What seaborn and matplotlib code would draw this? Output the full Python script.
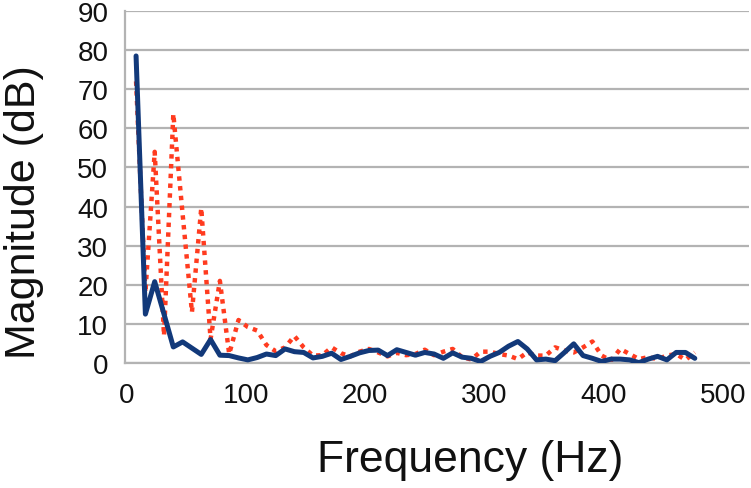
import matplotlib
matplotlib.use("Agg")
import matplotlib.pyplot as plt
import seaborn as sns
import pandas as pd

freq_hz = [7.81, 15.63, 23.44, 31.25, 39.06, 46.88, 54.69, 62.5, 70.31, 78.13,
           85.94, 93.75, 101.56, 109.38, 117.19, 125.0, 132.81, 140.63, 148.44, 156.25,
           164.06, 171.88, 179.69, 187.5, 195.31, 203.13, 210.94, 218.75, 226.56, 234.38,
           242.19, 250.0, 257.81, 265.63, 273.44, 281.25, 289.06, 296.88, 304.69, 312.5,
           320.31, 328.13, 335.94, 343.75, 351.56, 359.38, 367.19, 375.0, 382.81, 390.63,
           398.44, 406.25, 414.06, 421.88, 429.69, 437.5, 445.31, 453.13, 460.94, 468.75,
           476.56]

blue_db = [78.5, 12.5, 20.8, 12.5, 4.1, 5.4, 3.8, 2.2, 6.0, 2.0,
           1.9, 1.3, 0.8, 1.4, 2.3, 1.9, 3.6, 2.9, 2.7, 1.3,
           1.7, 2.5, 0.9, 1.7, 2.6, 3.2, 3.3, 1.9, 3.4, 2.7,
           2.0, 2.7, 2.3, 1.2, 2.6, 1.5, 1.2, 0.4, 1.7, 2.7,
           4.3, 5.5, 3.6, 0.8, 1.0, 0.6, 2.7, 4.9, 1.9, 1.2,
           0.4, 1.0, 1.0, 0.8, 0.1, 1.0, 1.7, 0.8, 2.7, 2.7,
           1.2]

red_db = [72.0, 18.0, 54.0, 7.0, 63.7, 38.0, 13.0, 39.6, 6.1, 21.0,
          2.3, 11.0, 9.2, 8.3, 4.6, 3.0, 4.0, 6.9, 4.0, 1.9,
          2.0, 4.0, 2.5, 1.7, 2.9, 3.6, 2.7, 1.7, 2.6, 2.0,
          2.3, 3.4, 2.0, 2.9, 3.6, 1.5, 0.9, 2.9, 2.9, 2.3,
          1.9, 1.0, 2.7, 1.9, 1.9, 4.0, 3.2, 2.7, 4.0, 5.5,
          1.9, 0.6, 3.6, 2.3, 1.0, 1.5, 1.0, 1.9, 2.3, 0.8,
          2.7]

x_ticks = [0, 100, 200, 300, 400, 500]
y_ticks = [0, 10, 20, 30, 40, 50, 60, 70, 80, 90]

sns.set_style("white")
plt.rcParams['font.family'] = ['Liberation Sans', 'DejaVu Sans']

df = pd.DataFrame({"freq": freq_hz, "blue": blue_db, "red": red_db})

fig = plt.figure(figsize=(7.51, 4.89), dpi=100)
ax = fig.add_axes([0.1664, 0.2556, 0.8309, 0.7199])

grid_c = "#b3b3b3"
ax.set_axisbelow(True)
for y in y_ticks:
    ax.axhline(y, color=grid_c, lw=1.6, zorder=0)

sns.lineplot(data=df, x="freq", y="red", ax=ax, color="#ff3b1f", lw=3.2,
             linestyle=(0, (1, 1.2)), zorder=2)
sns.lineplot(data=df, x="freq", y="blue", ax=ax, color="#12397a", lw=3.6, zorder=3)

ax.set_xlim(-1.5, 522)
ax.set_ylim(0, 90)
ax.set_xticks(x_ticks)
ax.set_yticks(y_ticks)
ax.tick_params(axis='both', labelsize=20, length=8, width=1.6, color=grid_c,
               direction='out', pad=4, labelcolor="#111111")
ax.tick_params(axis='x', pad=6)

for s in ["top", "right"]:
    ax.spines[s].set_visible(False)
for s in ["left", "bottom"]:
    ax.spines[s].set_color(grid_c)
    ax.spines[s].set_linewidth(1.6)

ax.set_xlabel("Frequency (Hz)", fontsize=32, color="#111111", va="center", ha="center")
ax.set_ylabel("Magnitude (dB)", fontsize=31, color="#111111", va="center", ha="center")
ax.xaxis.set_label_coords(0.553, -0.275)
ax.yaxis.set_label_coords(-0.162, 0.432)

fig.savefig("out.png", dpi=100)
